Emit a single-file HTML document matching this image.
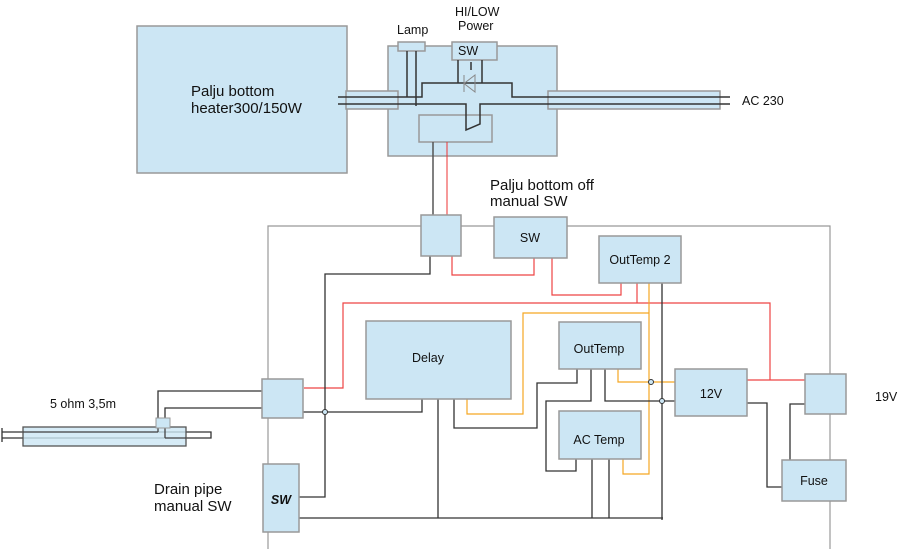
<!DOCTYPE html>
<html><head><meta charset="utf-8"><style>
html,body{margin:0;padding:0;background:#fff}
svg{display:block}
text{font-family:"Liberation Sans",sans-serif;fill:#111}
</style></head><body>
<svg width="911" height="549" viewBox="0 0 911 549" xmlns="http://www.w3.org/2000/svg">
<g fill="#cce6f4" stroke="#999" stroke-width="1.5">
<rect x="137" y="26" width="210" height="147"/>
<rect x="388" y="46" width="169" height="110"/>
<rect x="346" y="91" width="52" height="18"/>
<rect x="548" y="91" width="172" height="18"/>
<rect x="398" y="42" width="27" height="9"/>
<rect x="452" y="42" width="45" height="18"/>
<rect x="419" y="115" width="73" height="27"/>
</g>
<!-- controller wiring -->
<g fill="none" stroke="#333" stroke-width="1.5">
<polyline points="338,97 422,97 422,83 512,83 512,97 730,97"/>
<polyline points="338,104 466,104 466,130 480,124 480,104 730,104"/>
<line x1="407" y1="51" x2="407" y2="97"/>
<line x1="416" y1="51" x2="416" y2="106"/>
<line x1="458" y1="60" x2="458" y2="83"/>
<line x1="482" y1="60" x2="482" y2="83"/>
<line x1="471" y1="62" x2="471" y2="70"/>
</g>
<polygon points="475,75 475,92 464,83.5" fill="none" stroke="#888" stroke-width="1"/>
<line x1="464" y1="75" x2="464" y2="92" stroke="#888"/>
<line x1="433" y1="142" x2="433" y2="215" stroke="#555" stroke-width="1.5"/>
<line x1="447" y1="142" x2="447" y2="215" stroke="#e33" stroke-width="1"/>
<!-- outer rect -->
<polyline points="268,549 268,226 830,226 830,549" fill="none" stroke="#999" stroke-width="1.2"/>
<!-- red wires -->
<g fill="none" stroke="#e44" stroke-width="1.2">
<polyline points="452,256 452,275 534,275 534,258"/>
<polyline points="552,258 552,295 621,295 621,283"/>
<polyline points="304,388 343,388 343,303 770,303 770,380"/>
<line x1="637" y1="283" x2="637" y2="303"/>
<line x1="746" y1="380" x2="805" y2="380"/>
</g>
<!-- orange -->
<g fill="none" stroke="#f5a623" stroke-width="1.2">
<polyline points="649,283 649,474 623,474 623,459"/>
<polyline points="649,313 523,313 523,414 467,414 467,399"/>
<polyline points="618,369 618,382 675,382"/>
</g>
<!-- dark wires -->
<g fill="none" stroke="#333" stroke-width="1.3">
<polyline points="430,256 430,274 325,274 325,497 299,497"/>
<polyline points="303,412 422,412 422,399"/>
<polyline points="299,518 663,518"/>
<line x1="662" y1="283" x2="662" y2="520"/>
<line x1="438" y1="399" x2="438" y2="518"/>
<polyline points="577,369 577,383 537,383 537,428 454,428 454,399"/>
<polyline points="591,369 591,401 546,401 546,471 576,471 576,459"/>
<polyline points="605,369 605,401 675,401"/>
<line x1="592" y1="459" x2="592" y2="518"/>
<line x1="609" y1="459" x2="609" y2="518"/>
<polyline points="747,403 767,403 767,487 782,487"/>
<polyline points="790,460 790,404 805,404"/>
<polyline points="262,391 158,391 158,418"/>
<polyline points="262,408 165,408 165,418"/>
<polyline points="2,432 211,432 211,438 2,438"/>
<line x1="2" y1="428" x2="2" y2="442"/>
</g>
<circle cx="325" cy="412" r="2.5" fill="#cce6f4" stroke="#333"/>
<circle cx="651" cy="382" r="2.5" fill="#cce6f4" stroke="#333"/>
<circle cx="662" cy="401" r="2.5" fill="#cce6f4" stroke="#333"/>
<!-- tube -->
<rect x="23" y="427" width="163" height="19" fill="#cce6f4" stroke="#555" stroke-width="1.3" fill-opacity="0.8"/>
<g fill="none" stroke="#444" stroke-width="1.3"><line x1="23" y1="432" x2="158" y2="432"/><line x1="165" y1="438" x2="186" y2="438"/><line x1="158" y1="428" x2="158" y2="432"/><line x1="165" y1="428" x2="165" y2="438"/></g>
<rect x="156" y="418" width="14" height="10" fill="#cce6f4" stroke="#999"/>
<!-- boxes -->
<g fill="#cce6f4" stroke="#999" stroke-width="1.5">
<rect x="421" y="215" width="40" height="41"/>
<rect x="494" y="217" width="73" height="41"/>
<rect x="599" y="236" width="82" height="47"/>
<rect x="262" y="379" width="41" height="39"/>
<rect x="366" y="321" width="145" height="78"/>
<rect x="559" y="322" width="82" height="47"/>
<rect x="559" y="411" width="82" height="48"/>
<rect x="675" y="369" width="72" height="47"/>
<rect x="805" y="374" width="41" height="40"/>
<rect x="782" y="460" width="64" height="41"/>
<rect x="263" y="464" width="36" height="68"/>
</g>
<g font-size="15">
<text x="191" y="96">Palju bottom</text>
<text x="191" y="113">heater300/150W</text>
<text x="490" y="190">Palju bottom off</text>
<text x="490" y="206">manual SW</text>
<text x="154" y="494">Drain pipe</text>
<text x="154" y="511">manual SW</text>
</g>
<g font-size="12.5">
<text x="397" y="34">Lamp</text>
<text x="455" y="16">HI/LOW</text>
<text x="458" y="30">Power</text>
<text x="458" y="55">SW</text>
<text x="742" y="105">AC 230</text>
<text x="50" y="408">5 ohm 3,5m</text>
<text x="875" y="401">19V</text>
<text x="530" y="242" text-anchor="middle">SW</text>
<text x="640" y="264" text-anchor="middle">OutTemp 2</text>
<text x="428" y="362" text-anchor="middle">Delay</text>
<text x="599" y="353" text-anchor="middle">OutTemp</text>
<text x="599" y="444" text-anchor="middle">AC Temp</text>
<text x="711" y="398" text-anchor="middle">12V</text>
<text x="814" y="485" text-anchor="middle">Fuse</text>
<text x="281" y="504" text-anchor="middle" font-weight="bold" font-style="italic">SW</text>
</g>
</svg>
</body></html>
